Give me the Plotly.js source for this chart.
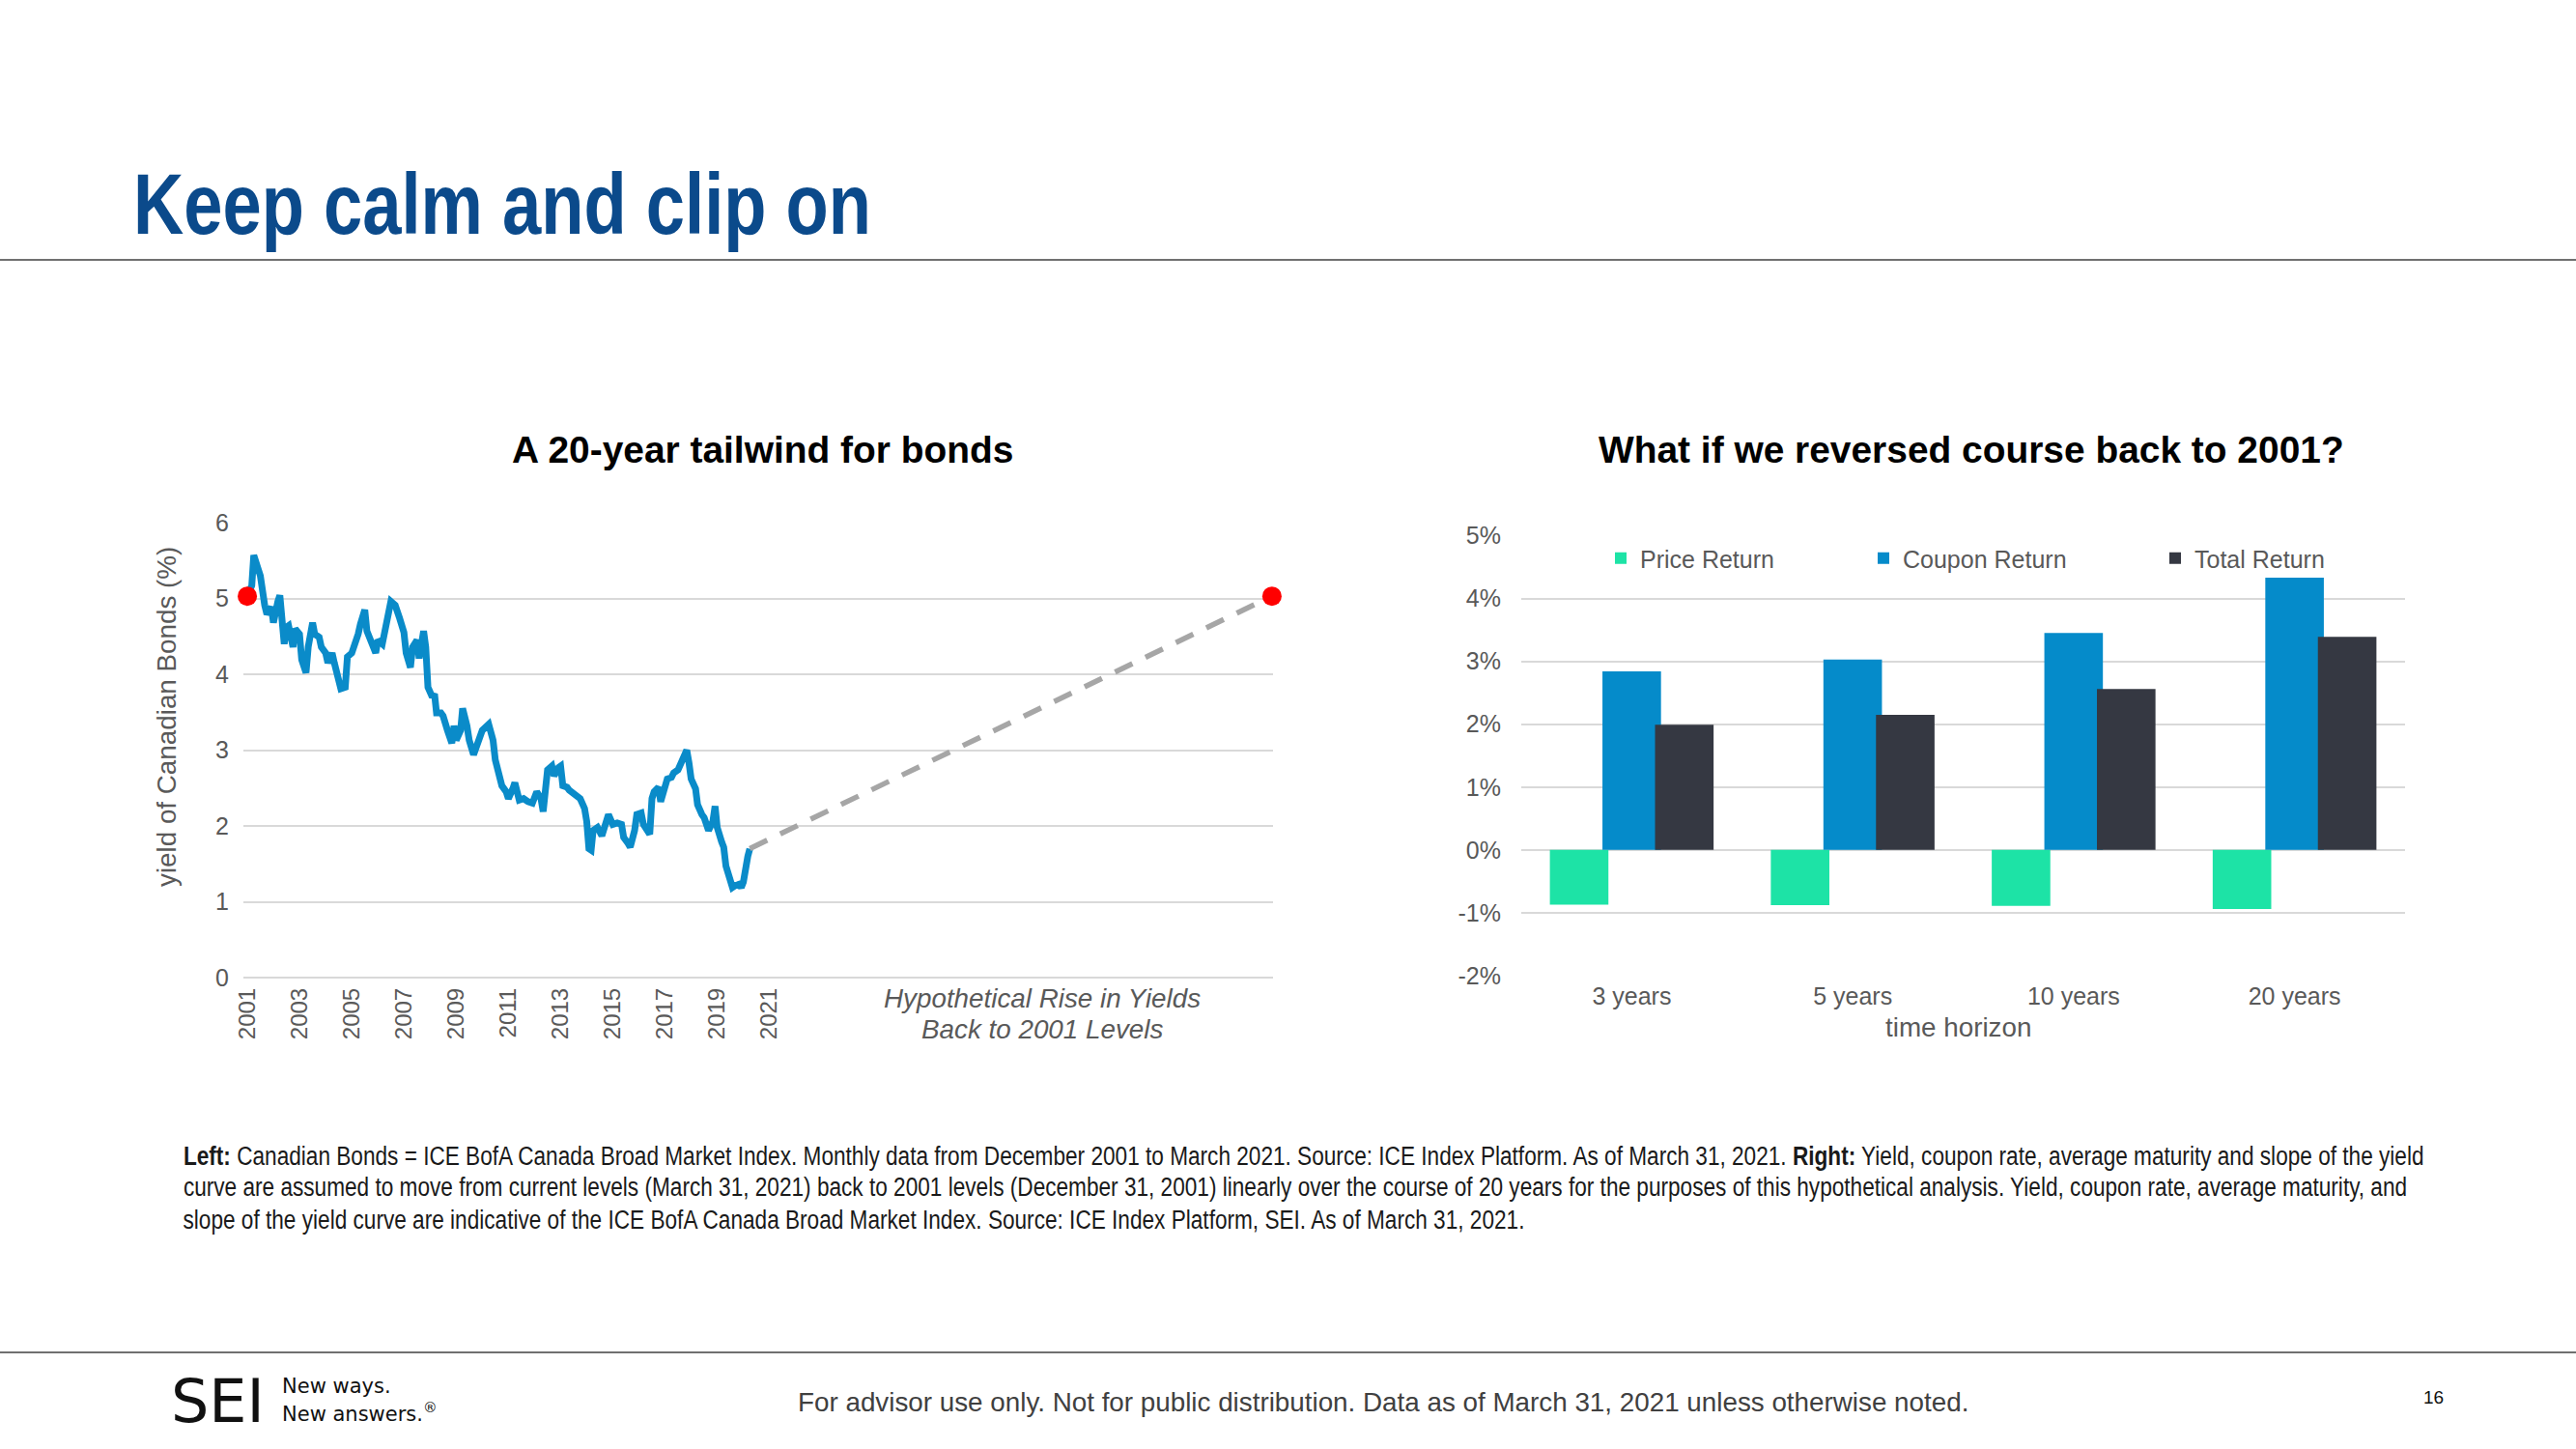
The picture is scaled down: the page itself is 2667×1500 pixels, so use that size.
<!DOCTYPE html>
<html>
<head>
<meta charset="utf-8">
<script src="https://cdn.plot.ly/plotly-3.0.1.min.js"></script>
<style>
html,body{margin:0;padding:0;background:#ffffff;}
#chart{width:2667px;height:1500px;}
</style>
</head>
<body>
<div id="chart"></div>
<script>
// ---------- Left chart: yield of Canadian Bonds (%) ----------
const yieldDates = [
'2001-12','2002-02','2002-03','2002-05','2002-06','2002-08','2002-09','2002-11','2002-12',
'2003-02','2003-03','2003-05','2003-06','2003-07','2003-09','2003-10','2003-12',
'2004-01','2004-03','2004-04','2004-06','2004-07','2004-09','2004-10','2004-12',
'2005-01','2005-03','2005-04','2005-06','2005-07','2005-09','2005-10','2005-12',
'2006-01','2006-03','2006-04','2006-06','2006-07','2006-09','2006-11','2006-12',
'2007-02','2007-03','2007-05','2007-06','2007-08','2007-09','2007-10','2007-12',
'2008-01','2008-03','2008-04','2008-06','2008-07','2008-09','2008-10','2008-11',
'2009-01','2009-02','2009-03','2009-05','2009-06','2009-08','2009-10','2009-11','2009-12',
'2010-02','2010-03','2010-05','2010-06','2010-08','2010-09','2010-11','2010-12',
'2011-03','2011-05','2011-06','2011-08','2011-09','2011-11','2011-12',
'2012-02','2012-03','2012-05','2012-07','2012-09','2012-11',
'2013-01','2013-03','2013-04','2013-05','2013-06','2013-08','2013-09','2013-11','2013-12',
'2014-01','2014-03','2014-04','2014-06','2014-08','2014-09','2014-11','2014-12',
'2015-01','2015-02','2015-03','2015-05','2015-07','2015-09','2015-10','2015-12',
'2016-02','2016-04','2016-05','2016-07','2016-08','2016-10','2016-11',
'2017-01','2017-02','2017-05','2017-06','2017-07','2017-09','2017-10','2017-12',
'2018-01','2018-03','2018-04','2018-06','2018-07','2018-09','2018-10','2018-11','2018-12',
'2019-02','2019-03','2019-05','2019-06','2019-08','2019-10','2019-11','2019-12',
'2020-02','2020-03','2020-04','2020-06','2020-07','2020-08','2020-10','2020-11','2020-12',
'2021-02','2021-03'
];
const yieldValues = [
5.03,5.17,5.57,5.34,5.30,4.91,4.79,4.89,4.68,
4.96,5.04,4.40,4.62,4.64,4.36,4.60,4.53,
4.19,4.02,4.36,4.68,4.53,4.49,4.36,4.28,
4.15,4.28,4.15,3.94,3.81,3.83,4.23,4.28,
4.36,4.53,4.66,4.85,4.57,4.40,4.28,4.45,
4.40,4.53,4.81,4.96,4.91,4.77,4.74,4.55,
4.28,4.09,4.36,4.45,4.21,4.57,4.36,3.83,
3.70,3.74,3.49,3.49,3.45,3.26,3.09,3.32,3.13,
3.26,3.55,3.32,3.13,2.94,3.04,3.19,3.26,
3.34,3.13,2.87,2.57,2.53,2.45,2.36,
2.49,2.57,2.34,2.36,2.32,2.30,
2.45,2.36,2.19,2.62,2.74,2.79,2.66,2.77,2.79,
2.53,2.51,2.47,2.43,2.40,2.36,2.23,2.06,
1.70,1.68,1.94,1.98,1.87,2.06,2.15,2.02,
2.04,2.02,1.85,1.77,1.72,1.94,2.15,
2.17,2.02,1.89,2.36,2.45,2.51,2.32,2.57,
2.62,2.64,2.70,2.74,2.81,2.91,3.00,2.83,2.62,
2.49,2.28,2.15,2.11,1.94,2.06,2.26,1.98,
1.79,1.72,1.47,1.26,1.19,1.21,1.23,1.19,1.26,
1.60,1.70
];
const projectionDates = ['2021-03','2041-03'];
const projectionValues = [1.70, 5.03];
const levelMarkerDates = ['2001-12','2041-03'];
const levelMarkerValues = [5.03, 5.03];
const yearTickLabels = ['2001','2003','2005','2007','2009','2011','2013','2015','2017','2019','2021'];
const yearTickDates = yearTickLabels.map(y => y + '-12');

// ---------- Right chart: hypothetical annualized returns (%) ----------
const horizons = ['3 years','5 years','10 years','20 years'];
const priceReturn  = [-0.87, -0.88, -0.89, -0.94];
const couponReturn = [2.84, 3.03, 3.45, 4.33];
const totalReturn  = [1.99, 2.15, 2.56, 3.39];
const returnTickValues = [-2, -1, 0, 1, 2, 3, 4, 5];
const returnTickLabels = ['-2%','-1%','0%','1%','2%','3%','4%','5%'];

// ---------- helpers ----------
const W = 2667, H = 1500;
const px = x => x / W;
const py = y => 1 - y / H;
const GREY = '#595959';
const GRID = '#d9d9d9';
const SANS = "'Liberation Sans', Arial, sans-serif";
const NARROW_FACTOR = 0.814; // Arial Narrow look, emulated from Liberation Sans

const traces = [
  {type:'scatter', mode:'lines', x:yieldDates, y:yieldValues, xaxis:'x', yaxis:'y',
   line:{color:'#0a8bc9', width:7}, showlegend:false, hoverinfo:'skip'},
  {type:'scatter', mode:'lines', x:projectionDates, y:projectionValues, xaxis:'x', yaxis:'y',
   line:{color:'#a6a6a6', width:5.5, dash:'20px,15px'}, showlegend:false, hoverinfo:'skip'},
  {type:'scatter', mode:'markers', x:levelMarkerDates, y:levelMarkerValues, xaxis:'x', yaxis:'y',
   marker:{color:'#ff0000', size:20}, cliponaxis:false, showlegend:false, hoverinfo:'skip'},
  {type:'bar', name:'Price Return', x:horizons, y:priceReturn, xaxis:'x2', yaxis:'y2',
   marker:{color:'#1de3a6'}, width:0.265, offset:-0.3705, legend:'legend'},
  {type:'bar', name:'Coupon Return', x:horizons, y:couponReturn, xaxis:'x2', yaxis:'y2',
   marker:{color:'#058bca'}, width:0.265, offset:-0.1325, legend:'legend2'},
  {type:'bar', name:'Total Return', x:horizons, y:totalReturn, xaxis:'x2', yaxis:'y2',
   marker:{color:'#353842'}, width:0.265, offset:0.1055, legend:'legend3'}
];

const legendBase = {orientation:'h', yanchor:'middle', xanchor:'left', y:py(578),
  bgcolor:'rgba(0,0,0,0)', font:{family:SANS, size:25, color:GREY}};

const ann = (text, x, y, opts) => Object.assign({text:text, x:px(x), y:py(y), xref:'paper', yref:'paper',
  showarrow:false, xanchor:'center', yanchor:'middle'}, opts || {});

const layout = {
  width:W, height:H, margin:{l:0, r:0, t:0, b:0},
  paper_bgcolor:'#ffffff', plot_bgcolor:'rgba(0,0,0,0)',
  font:{family:SANS, color:GREY, size:25},
  barmode:'overlay',
  xaxis:{domain:[px(252), px(1318)], anchor:'y', type:'date', range:['2001-10-07','2041-03-16'],
    tickmode:'array', tickvals:yearTickDates, ticktext:yearTickLabels, tickangle:-90,
    tickfont:{size:24, color:GREY}, ticklabelstandoff:5,
    showgrid:false, zeroline:false, showline:false, ticks:'', fixedrange:true},
  yaxis:{domain:[py(1012), py(541)], anchor:'x', range:[0,6], tick0:0, dtick:1,
    showgrid:true, gridcolor:GRID, gridwidth:2, zeroline:true, zerolinecolor:GRID, zerolinewidth:2,
    showline:false, ticks:'', tickfont:{size:25, color:GREY}, ticklabelstandoff:14, fixedrange:true},
  xaxis2:{domain:[px(1575), px(2490)], anchor:'y2', type:'category', range:[-0.5,3.5],
    showgrid:false, zeroline:false, showline:false, ticks:'', tickfont:{size:25, color:GREY},
    ticklabelstandoff:4, fixedrange:true},
  yaxis2:{domain:[py(1010), py(554.5)], anchor:'x2', range:[-2,5],
    tickmode:'array', tickvals:returnTickValues, ticktext:returnTickLabels,
    showgrid:true, gridcolor:GRID, gridwidth:2, zeroline:true, zerolinecolor:GRID, zerolinewidth:2,
    showline:false, ticks:'', tickfont:{size:25, color:GREY}, ticklabelstandoff:20, fixedrange:true},
  legend: Object.assign({}, legendBase, {x:px(1658)}),
  legend2: Object.assign({}, legendBase, {x:px(1930)}),
  legend3: Object.assign({}, legendBase, {x:px(2232)}),
  shapes:[
    {type:'line', xref:'paper', yref:'paper', x0:0, x1:1, y0:py(269), y1:py(269), line:{color:'#404040', width:1.5}},
    {type:'line', xref:'paper', yref:'paper', x0:0, x1:1, y0:py(1400), y1:py(1400), line:{color:'#404040', width:1.5}}
  ],
  annotations:[
    ann('<b>Keep calm and clip on</b>', 136, 211, {xanchor:'left', font:{family:SANS, size:88.9, color:'#0b4a8b'}}),
    ann('<b>A 20-year tailwind for bonds</b>', 789, 465, {font:{family:SANS, size:38.9, color:'#000000'}}),
    ann('<b>What if we reversed course back to 2001?</b>', 2041, 465, {font:{family:SANS, size:38.9, color:'#000000'}}),
    ann('yield of Canadian Bonds (%)', 173, 742, {textangle:-90, font:{family:SANS, size:27.8, color:GREY}}),
    ann('<i>Hypothetical Rise in Yields</i>', 1079, 1033, {font:{family:SANS, size:27.8, color:GREY}}),
    ann('<i>Back to 2001 Levels</i>', 1079, 1065, {font:{family:SANS, size:27.8, color:GREY}}),
    ann('time horizon', 2027, 1063, {font:{family:SANS, size:27.8, color:GREY}}),
    ann('<b>Left:</b> Canadian Bonds = ICE BofA Canada Broad Market Index. Monthly data from December 2001 to March 2021. Source: ICE Index Platform. As of March 31, 2021. <b>Right:</b> Yield, coupon rate, average maturity and slope of the yield',
        187, 1196, {xanchor:'left', font:{family:SANS, size:27.8, color:'#1a1a1a'}}),
    ann('curve are assumed to move from current levels (March 31, 2021) back to 2001 levels (December 31, 2001) linearly over the course of 20 years for the purposes of this hypothetical analysis. Yield, coupon rate, average maturity, and',
        187, 1228, {xanchor:'left', font:{family:SANS, size:27.8, color:'#1a1a1a'}}),
    ann('slope of the yield curve are indicative of the ICE BofA Canada Broad Market Index. Source: ICE Index Platform, SEI. As of March 31, 2021.',
        187, 1262, {xanchor:'left', font:{family:SANS, size:27.8, color:'#1a1a1a'}}),
    ann('SEI', 225, 1450, {font:{family:"'DejaVu Sans', sans-serif", size:62, color:'#111111'}}),
    ann('New ways.', 290, 1435, {xanchor:'left', font:{family:"'DejaVu Sans', sans-serif", size:21, color:'#111111'}}),
    ann('New answers.<sup>®</sup>', 290, 1462, {xanchor:'left', font:{family:"'DejaVu Sans', sans-serif", size:21, color:'#111111'}}),
    ann('For advisor use only. Not for public distribution. Data as of March 31, 2021 unless otherwise noted.', 1432, 1451,
        {font:{family:SANS, size:27.8, color:'#404040'}}),
    ann('16', 2519, 1446, {font:{family:SANS, size:19, color:'#111111'}})
  ]
};

// annotations set in Arial Narrow in the reference: title and footnote lines
const narrowAnnotations = [0, 7, 8, 9];

Plotly.newPlot('chart', traces, layout, {displayModeBar:false, staticPlot:true}).then(gd => {
  narrowAnnotations.forEach(i => {
    const t = gd.querySelector('g.annotation[data-index="' + i + '"] text.annotation-text');
    if (t) {
      t.style.transformBox = 'fill-box';
      t.style.transformOrigin = '0% 50%';
      t.style.transform = 'scaleX(' + NARROW_FACTOR + ')';
    }
  });
});
</script>
</body>
</html>
